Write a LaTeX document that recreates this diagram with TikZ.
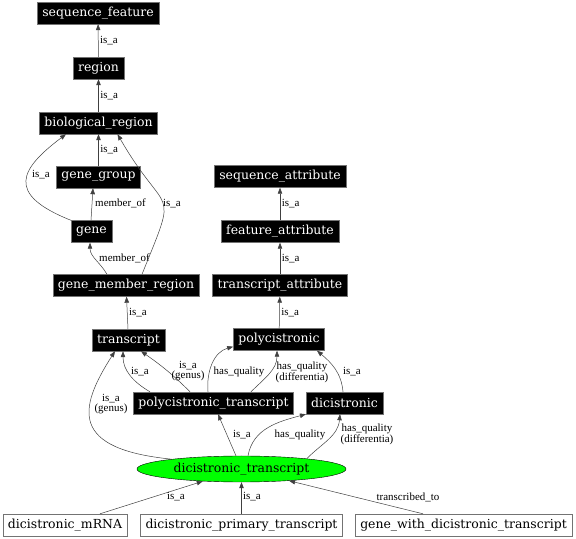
\documentclass[tikz,border=0pt]{standalone}
\usepackage{fontspec}
\setmainfont{DejaVu Serif}
\newfontfamily\lblfont{Liberation Serif}
\usetikzlibrary{arrows.meta, shapes.geometric}
\tikzset{
  tnode/.style={draw=black!55, rectangle, font=\fontsize{12.5}{14}\selectfont, inner xsep=5bp, inner ysep=0pt, minimum height=22bp},
  cls/.style={tnode, fill=black, text=white},
  leaf/.style={tnode, fill=white},
  focus/.style={draw=black, ellipse, fill=green, font=\fontsize{12.5}{14}\selectfont, minimum width=209bp, minimum height=26bp, inner sep=0pt},
  lbl/.style={font=\lblfont\fontsize{11}{9}\selectfont, align=center, inner sep=1.5bp},
  arr/.style={-{Triangle[length=6bp,width=4.5bp]}, draw=black!75, line width=0.5pt},
}
\begin{document}
\begin{tikzpicture}[x=1bp,y=1bp]
\useasboundingbox (0,0) rectangle (576,539);
% ontology terms
\node[cls] (sf) at (98,526) {sequence\_feature};
\node[cls] (region) at (98.5,471) {region};
\node[cls] (bio) at (98.5,416) {biological\_region};
\node[cls] (gg) at (98.5,362) {gene\_group};
\node[cls] (gene) at (91.5,307.5) {gene};
\node[cls] (gmr) at (126,253.5) {gene\_member\_region};
\node[cls] (transcript) at (128.5,199) {transcript};
\node[cls] (sa) at (280,362.5) {sequence\_attribute};
\node[cls] (fa) at (280,307.5) {feature\_attribute};
\node[cls] (ta) at (280,253.5) {transcript\_attribute};
\node[cls] (poly) at (279,199.5) {polycistronic};
\node[cls] (pt) at (213.5,136) {polycistronic\_transcript};
\node[cls] (dic) at (344.5,136) {dicistronic};
\node[focus] (dt) at (241.5,70) {dicistronic\_transcript};
\node[leaf] (mrna) at (65,14) {dicistronic\_mRNA};
\node[leaf] (dpt) at (241.5,14) {dicistronic\_primary\_transcript};
\node[leaf] (gwdt) at (463.5,14) {gene\_with\_dicistronic\_transcript};
% upper left
\draw[arr] (region) -- node[lbl, right] {is\_a} (sf);
\draw[arr] (bio) -- node[lbl, right] {is\_a} (region);
\draw[arr] (gg) -- node[lbl, right] {is\_a} (bio);
\draw[arr] (gene.north west) .. controls (5,345) and (20,370) .. ([xshift=-32.5bp]bio.south)
  node[lbl] at (41,364) {is\_a};
\draw[arr] ([xshift=-0.5bp]gene.north) -- ([xshift=-5.5bp]gg.south)
  node[lbl] at (120.5,336) {member\_of};
\draw[arr] ([xshift=-19bp]gmr.north) to[out=120, in=270] ([xshift=-1.5bp]gene.south)
  node[lbl] at (124.5,281) {member\_of};
\draw[arr] ([xshift=16bp]gmr.north) to[out=68, in=300, looseness=1.8] ([xshift=19bp]bio.south)
  node[lbl] at (172,335) {is\_a};
\draw[arr] (transcript) -- node[lbl, right] {is\_a} (gmr);
% attributes
\draw[arr] (fa) -- node[lbl, right] {is\_a} (sa);
\draw[arr] (ta) -- node[lbl, right] {is\_a} (fa);
\draw[arr] (poly) -- node[lbl, right] {is\_a} (ta);
% middle row
\draw[arr] ([xshift=-63.5bp]pt.north) to[out=150, in=270] ([xshift=-5.5bp]transcript.south)
  node[lbl] at (140,167) {is\_a};
\draw[arr] ([xshift=-23.5bp]pt.north) to[out=135, in=-35] ([xshift=12.5bp]transcript.south)
  node[lbl] at (188,168) {is\_a\\(genus)};
\draw[arr] ([xshift=-5.5bp]pt.north) to[out=95, in=195] ([yshift=4bp]poly.south west)
  node[lbl] at (239,167) {has\_quality};
\draw[arr] ([xshift=37.5bp]pt.north) to[out=45, in=270] ([xshift=-2bp]poly.south)
  node[lbl] at (302,167) {has\_quality\\(differentia)};
\draw[arr] ([xshift=-1.5bp]dic.north) to[out=95, in=320] ([xshift=38bp]poly.south)
  node[lbl] at (352,167) {is\_a};
% focus term
\draw[arr] (dt.172) .. controls (70,90) and (78,130) .. ([xshift=-13.5bp]transcript.south)
  node[lbl] at (111,135) {is\_a\\(genus)};
\draw[arr] ([xshift=-5.5bp]dt.north) -- ([xshift=4.5bp]pt.south)
  node[lbl] at (242,104) {is\_a};
\draw[arr] ([xshift=6.5bp]dt.north) to[out=80, in=195] (dic.south west)
  node[lbl] at (300,104) {has\_quality};
\draw[arr] (dt.9) to[out=45, in=265] ([xshift=-4.5bp]dic.south)
  node[lbl] at (367,105) {has\_quality\\(differentia)};
% lower row
\draw[arr] ([xshift=35bp]mrna.north) -- (dt)
  node[lbl] at (176,42) {is\_a};
\draw[arr] (dpt) -- (dt)
  node[lbl] at (252,42) {is\_a};
\draw[arr] ([xshift=-40.5bp]gwdt.north) -- (dt)
  node[lbl] at (408,42) {transcribed\_to};
\end{tikzpicture}
\end{document}
